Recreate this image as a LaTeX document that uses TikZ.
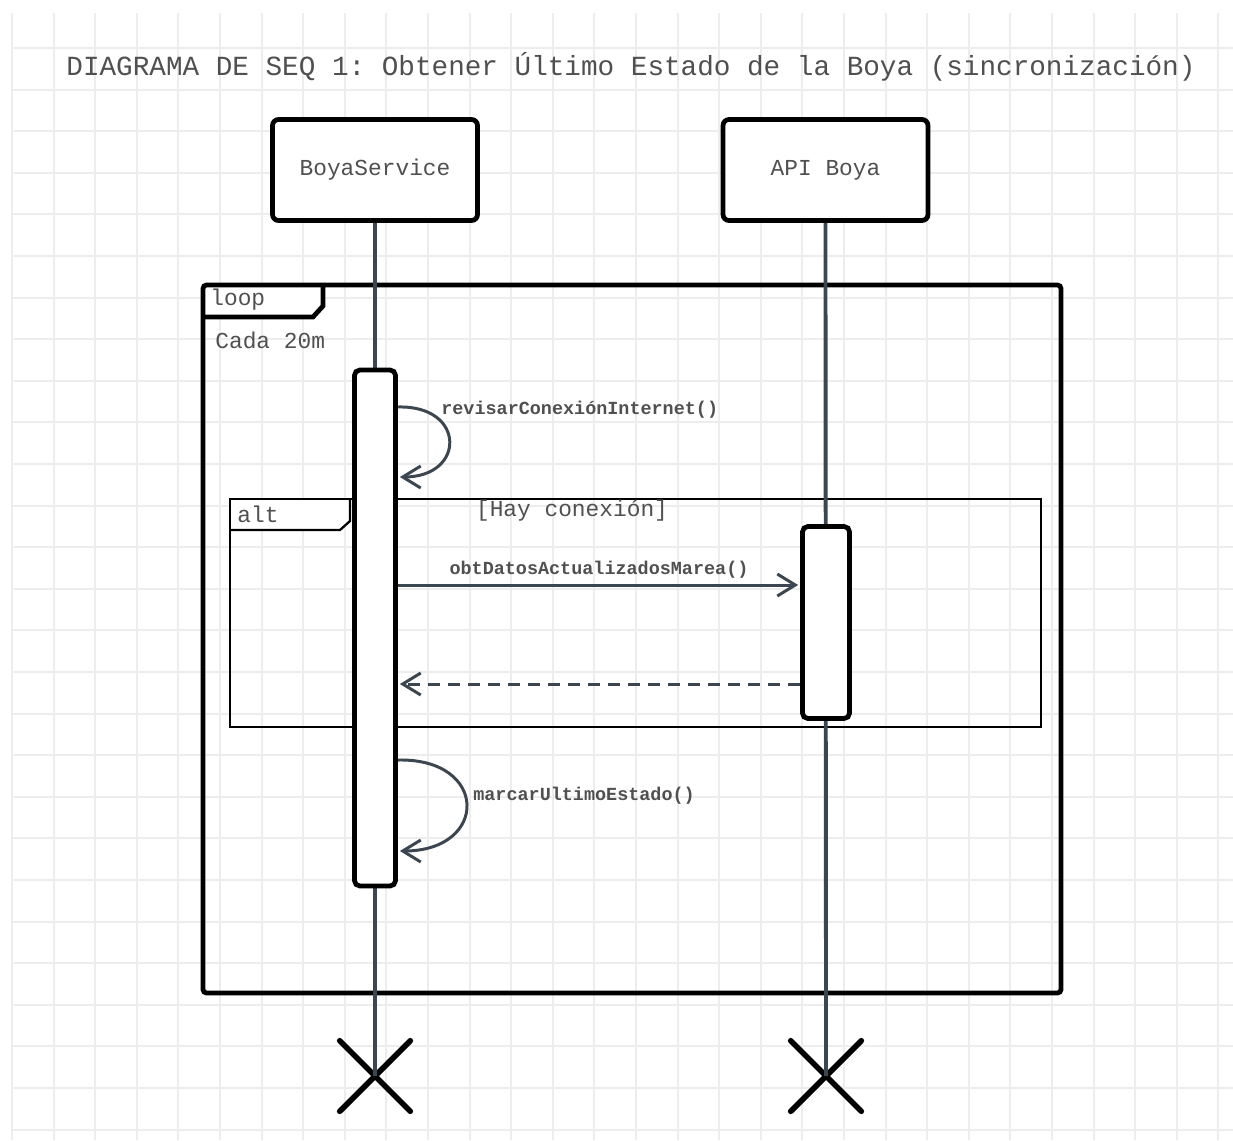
\documentclass[tikz,border=0pt]{standalone}
\usepackage{fontspec}
\setmonofont{Liberation Mono}
\usetikzlibrary{arrows.meta, shapes.misc}

\definecolor{gridgray}{HTML}{EDEDED}
\definecolor{lifegray}{HTML}{3C4650}
\definecolor{textgray}{HTML}{505050}

\tikzset{
  gridline/.style={line width=1.1pt, gridgray},
  head/.style={draw, line width=2.7pt, rounded corners=3.4pt, fill=white, minimum width=4.1cm, minimum height=2.02cm, text=textgray, font=\ttfamily\fontsize{13}{15}\selectfont},
  activ/.style={draw, line width=2.7pt, rounded corners=3pt, fill=white, inner sep=0pt},
  lifeline/.style={line width=2.2pt, lifegray},
  frame/.style={line width=2.7pt, rounded corners=2pt},
  altframe/.style={line width=1.3pt},
  framelabel/.style={inner sep=0pt, text=textgray, font=\ttfamily\fontsize{13}{15}\selectfont},
  msglabel/.style={inner sep=0pt, text=textgray, font=\ttfamily\bfseries\fontsize{10.5}{12}\selectfont},
  msg/.style={line width=1.7pt, lifegray, shorten >=0.04cm, -{Straight Barb[length=3.6mm, width=4.4mm, line width=1.7pt]}},
  retmsg/.style={msg, dash pattern=on 0.24cm off 0.16cm},
  endmark/.style={draw, cross out, line width=3.2pt, line cap=round, minimum size=1.3cm, inner sep=0pt}
}

\begin{document}
\begin{tikzpicture}[x=0.02cm, y=-0.02cm]
	\useasboundingbox (0,0) rectangle (1233,1140);
	\fill[white] (0,0) rectangle (1233,1140);

	% Dibuja la cuadricula del fondo
	\foreach \i in {0,...,29} \draw[gridline] ({12+41.6*\i},13) -- ({12+41.6*\i},1140);
	\foreach \j in {0,...,26} \draw[gridline] (12,{48+41.6*\j}) -- (1233,{48+41.6*\j});

	% Titulo del diagrama
	\node[text=textgray, font=\ttfamily\fontsize{15.75}{18}\selectfont] (title) at (631,67) {DIAGRAMA DE SEQ 1: Obtener Último Estado de la Boya (sincronización)};

	% Marco loop con su pestana
	\fill[white] (203,285) -- (323,285) -- (323,306) -- (313,317) -- (203,317) -- cycle;
	\draw[frame] (203,285) rectangle (1061,993);
	\draw[line width=2.7pt] (203,317) -- (313,317) -- (323,306) -- (323,285);
	\node[framelabel, anchor=west] (loopLbl) at (210,300) {loop};
	\node[framelabel, anchor=west] (cadaLbl) at (215,340) {Cada 20m};

	% Marco alt con su pestana
	\fill[white] (230,499) -- (350,499) -- (350,521) -- (340,530) -- (230,530) -- cycle;
	\draw[altframe] (230,499) rectangle (1041,727);
	\draw[altframe] (230,530) -- (340,530) -- (350,521) -- (350,499);
	\node[framelabel, anchor=west] (altLbl) at (237,514) {alt};
	\node[framelabel] (condLbl) at (572,511) {[Hay conexión]};

	% Participantes
	\node[head] (bs) at (375,170) {BoyaService};
	\node[head] (api) at (825.5,170) {API Boya};

	% Fin de las lineas de vida
	\node[endmark] (xBs) at (375,1076) {};
	\node[endmark] (xApi) at (826,1076) {};

	% Lineas de vida
	\draw[lifeline] (bs.south) -- (xBs.center);
	\draw[lifeline] (api.south) -- (xApi.center);

	% Barras de activacion
	\node[activ, minimum width=0.82cm, minimum height=10.32cm] (actBs) at (375,628) {};
	\node[activ, minimum width=0.94cm, minimum height=3.84cm] (actApi) at (826,622.5) {};

	% Mensaje propio 1
	\draw[msg] (actBs.east |- 0,407) .. controls (466,405) and (466,477) .. (actBs.east |- 0,477);
	\node[msglabel, anchor=west] (revLbl) at (441,410) {revisarConexiónInternet()};

	% Peticion a la API
	\draw[msg] (actBs.east |- 0,585) -- node[msglabel, above=0.1cm] (obtLbl) {obtDatosActualizadosMarea()} (actApi.west |- 0,585);

	% Respuesta de la API
	\draw[retmsg] (actApi.west |- 0,684) -- (actBs.east |- 0,684);

	% Mensaje propio 2
	\draw[msg] (actBs.east |- 0,760) .. controls (489,758) and (489,851) .. (actBs.east |- 0,851);
	\node[msglabel, anchor=west] (marcLbl) at (473,796) {marcarUltimoEstado()};

\end{tikzpicture}
\end{document}
